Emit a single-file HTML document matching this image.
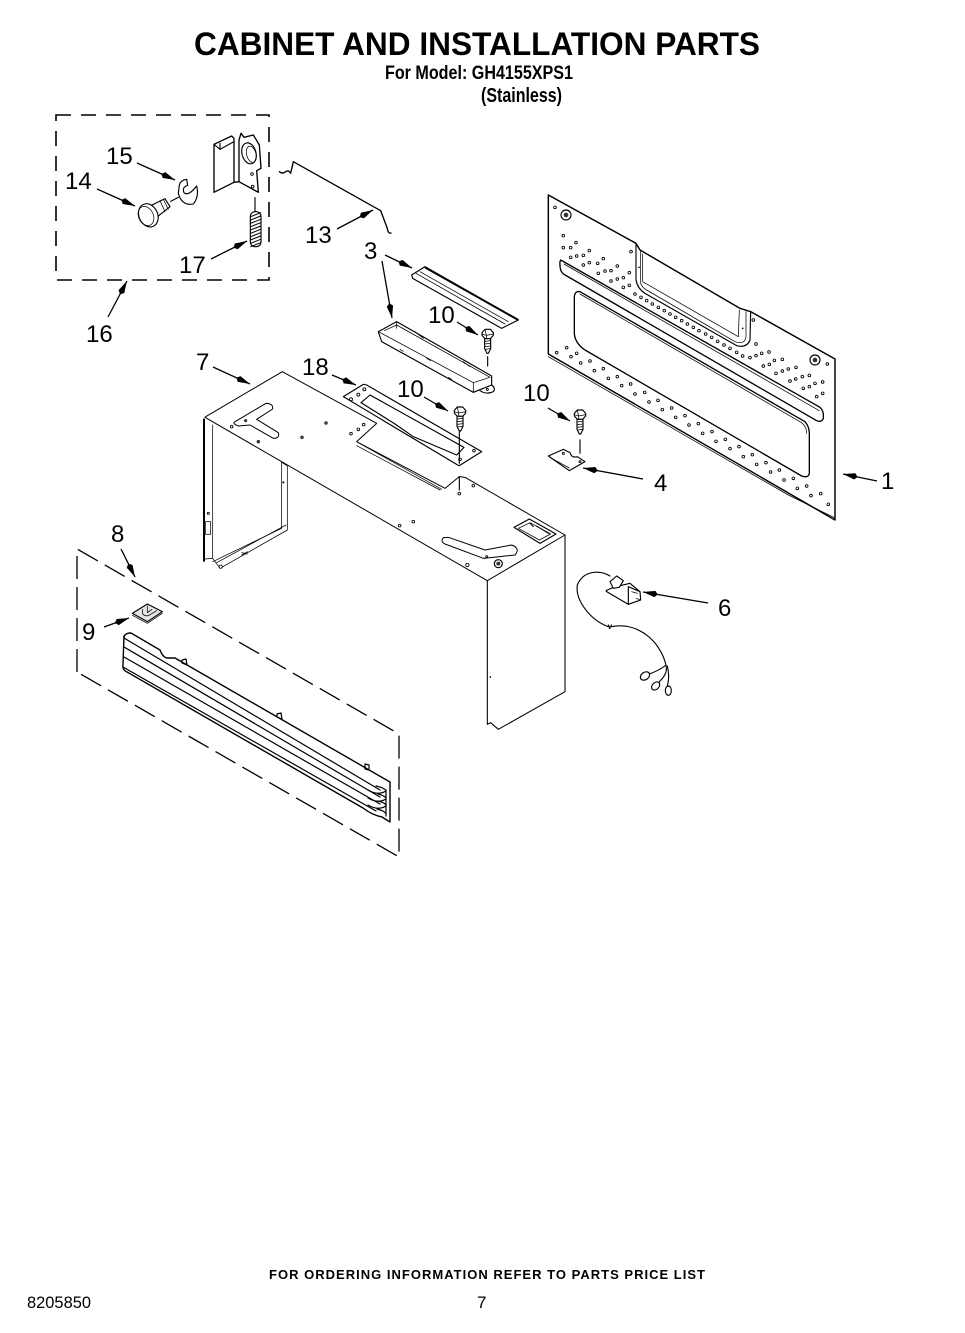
<!DOCTYPE html>
<html><head><meta charset="utf-8"><style>
html,body{margin:0;padding:0;background:#fff}
svg{display:block}
text{font-family:"Liberation Sans",sans-serif;fill:#000}
.n{font-size:24px}
.l{fill:none;stroke:#000;stroke-width:3.4;stroke-linejoin:round;stroke-linecap:round}
.t{fill:none;stroke:#000;stroke-width:2.2;stroke-linejoin:round;stroke-linecap:round}
.h{fill:#fff;stroke:#000;stroke-width:2.6}
.w{fill:#fff;stroke:#000;stroke-width:3.4;stroke-linejoin:round}
.a{stroke:#000;stroke-width:1.3;fill:none;marker-end:url(#ah)}
.g{fill:none;stroke:#000;stroke-width:1.2;stroke-linejoin:round;stroke-linecap:round}
</style></head><body>
<svg width="965" height="1333" viewBox="0 0 965 1333" xmlns="http://www.w3.org/2000/svg">
<defs>
<marker id="ah" markerUnits="userSpaceOnUse" markerWidth="16" markerHeight="8" refX="15" refY="4" orient="auto"><path d="M0,4 L3,.8 L15,4 L3,7.2Z" fill="#000"/></marker>
<g id="screw">
<path class="w" d="M-17,-12 L-8,-22 L8,-22 L17,-12 L17,-4 L8,6 L-8,6 L-17,-4Z"/>
<path class="t" d="M-17,-8 L-4,-4 L17,-8 M-4,-4 L-4,6 M-8,-22 L-4,-4"/>
<path class="w" d="M-9,6 L-9,36 L-2,50 L2,50 L9,36 L9,6Z"/>
<path class="t" d="M-9,14 L9,12 M-9,22 L9,20 M-9,30 L9,28 M-7,38 L7,36"/>
</g>
</defs>
<rect width="965" height="1333" fill="#fff"/>

<!-- headings -->
<text x="194" y="55" font-size="32" font-weight="bold" textLength="566" lengthAdjust="spacingAndGlyphs">CABINET AND INSTALLATION PARTS</text>
<text x="385" y="79" font-size="19" font-weight="bold" textLength="188" lengthAdjust="spacingAndGlyphs">For Model: GH4155XPS1</text>
<text x="481" y="102" font-size="20" font-weight="bold" textLength="81" lengthAdjust="spacingAndGlyphs">(Stainless)</text>
<text x="269" y="1279" font-size="13" font-weight="bold" textLength="436" lengthAdjust="spacing">FOR ORDERING INFORMATION REFER TO PARTS PRICE LIST</text>
<text x="27" y="1308" font-size="17" textLength="64" lengthAdjust="spacingAndGlyphs">8205850</text>
<text x="477" y="1308" font-size="17">7</text>

<!-- dashed boxes -->
<path d="M56,115 H269 V280 H56Z" fill="none" stroke="#000" stroke-width="1.6" stroke-dasharray="15 10"/>
<path d="M77,672 V549 L399,734 V857Z" fill="none" stroke="#000" stroke-width="1.3" stroke-dasharray="23 8"/>

<!-- small parts (zoom 1 coordinates) -->
<g transform="translate(40,100) scale(.33333)">
<path class="l" style="stroke-width:4" d="M522,133 L522,277 L582,247 L582,115 L575,108 L522,133"/>
<path class="l" d="M540,130 L540,148 L582,125 M522,133 L540,148"/>
<path class="l" style="stroke-width:4" d="M582,247 L597,245 L597,120 L603,100 L612,112 L640,105 L658,135 L663,205 L650,212 L655,277 L597,245"/>
<ellipse class="w" cx="627" cy="160" rx="21" ry="32" transform="rotate(-15 627 160)"/>
<ellipse class="t" cx="634" cy="163" rx="14" ry="25" transform="rotate(-15 634 163)"/>
<circle class="h" cx="636" cy="222" r="4"/><circle class="h" cx="638" cy="260" r="4"/>
<path class="l" d="M645,293 V335"/>
<rect class="w" x="631" y="335" width="32" height="105" rx="14"/>
<path class="t" style="stroke-width:3" d="M632,350 L662,338 M632,360 L662,348 M632,370 L662,358 M632,380 L662,368 M632,390 L662,378 M632,400 L662,388 M632,410 L662,398 M632,420 L662,408 M632,430 L662,418 M632,440 L662,428"/>
<!-- pin -->
<path class="l" d="M392,304 L415,292"/>
<path class="w" d="M330,318 L375,296 L390,320 L350,352Z"/>
<path class="t" d="M360,302 L375,335 M370,298 L385,328"/>
<ellipse class="w" cx="325" cy="346" rx="28" ry="36" transform="rotate(-25 325 346)"/>
<ellipse class="t" cx="318" cy="348" rx="22" ry="30" transform="rotate(-25 318 348)"/>
<!-- clip -->
<path class="l" d="M418,255 Q422,240 440,238 L443,256 Q425,262 432,278 Q445,290 470,258 Q478,290 460,312 Q425,318 415,280Z"/>
<!-- rod 13 -->
<path class="l" style="stroke-width:4" d="M718,215 Q728,224 738,214 Q746,210 752,220 L760,185 L1022,332 L1042,385 Q1044,402 1053,399"/>
</g>

<!-- rear panel 1 -->
<g transform="translate(530,180) scale(.33333)">
<path class="l" style="stroke-width:4.4" d="M55,45 L318,190 L330,210 L630,385 L662,395 L915,537 L915,1020 L55,522Z"/>
<path class="t" d="M55,530 L775,945 L915,1014"/>
<path class="l" d="M318,190 L318,300 Q322,325 345,340 L620,497 Q650,505 660,480 L662,395"/>
<path class="t" d="M332,210 L332,310 Q336,322 350,330 L615,485 Q645,495 648,470 L648,395"/>
<path class="t" d="M338,222 L338,305 L625,470 L628,390"/>
<path class="l" style="stroke-width:4" d="M92,240 L870,682 Q882,692 880,715 Q875,728 860,722 L100,282 Q88,272 90,245Z"/>
<path class="t" d="M102,252 L868,692"/>
<path class="l" style="stroke-width:4" d="M150,335 L825,725 Q838,740 838,760 L838,880 Q835,895 815,888 L165,510 Q135,490 133,460 L133,350 Q135,332 150,335Z"/>
<path class="t" d="M150,342 L815,728 Q830,740 830,760"/>
<circle class="w" cx="108" cy="105" r="15"/><circle cx="108" cy="105" r="7" fill="#333"/>
<circle class="w" cx="855" cy="540" r="15"/><circle cx="855" cy="540" r="7" fill="#333"/>
<g class="h" fill="#fff">
<circle cx="80" cy="518" r="4"/><circle cx="110" cy="503" r="4"/><circle cx="123" cy="530" r="4"/><circle cx="140" cy="520" r="4"/><circle cx="152" cy="549" r="4"/><circle cx="180" cy="543" r="4"/><circle cx="193" cy="572" r="4"/><circle cx="220" cy="566" r="4"/><circle cx="235" cy="595" r="4"/><circle cx="262" cy="590" r="4"/><circle cx="275" cy="617" r="4"/><circle cx="302" cy="612" r="4"/><circle cx="315" cy="642" r="4"/><circle cx="344" cy="637" r="4"/><circle cx="357" cy="666" r="4"/><circle cx="384" cy="661" r="4"/><circle cx="397" cy="689" r="4"/><circle cx="425" cy="684" r="4"/><circle cx="437" cy="712" r="4"/><circle cx="465" cy="707" r="4"/><circle cx="477" cy="735" r="4"/><circle cx="505" cy="731" r="4"/><circle cx="518" cy="760" r="4"/><circle cx="546" cy="755" r="4"/><circle cx="558" cy="784" r="4"/><circle cx="586" cy="778" r="4"/><circle cx="600" cy="806" r="4"/><circle cx="627" cy="800" r="4"/><circle cx="640" cy="830" r="4"/><circle cx="667" cy="824" r="4"/><circle cx="680" cy="853" r="4"/><circle cx="708" cy="848" r="4"/><circle cx="722" cy="876" r="4"/><circle cx="748" cy="870" r="4"/><circle cx="762" cy="900" r="4"/><circle cx="790" cy="895" r="4"/><circle cx="802" cy="925" r="4"/><circle cx="830" cy="918" r="4"/><circle cx="843" cy="947" r="4"/><circle cx="872" cy="941" r="4"/><circle cx="895" cy="973" r="4"/>
<circle cx="315" cy="342" r="4"/><circle cx="333" cy="352" r="4"/><circle cx="350" cy="362" r="4"/><circle cx="367" cy="372" r="4"/><circle cx="385" cy="382" r="4"/><circle cx="403" cy="392" r="4"/><circle cx="420" cy="402" r="4"/><circle cx="437" cy="412" r="4"/><circle cx="455" cy="422" r="4"/><circle cx="472" cy="432" r="4"/><circle cx="490" cy="442" r="4"/><circle cx="507" cy="452" r="4"/><circle cx="527" cy="462" r="4"/><circle cx="545" cy="472" r="4"/><circle cx="563" cy="484" r="4"/><circle cx="582" cy="495" r="4"/><circle cx="600" cy="505" r="4"/><circle cx="620" cy="517" r="4"/><circle cx="638" cy="528" r="4"/><circle cx="660" cy="533" r="4"/><circle cx="678" cy="527" r="4"/><circle cx="695" cy="520" r="4"/><circle cx="717" cy="516" r="4"/><circle cx="678" cy="492" r="4"/>
<circle cx="100" cy="167" r="4"/><circle cx="100" cy="203" r="4"/><circle cx="122" cy="203" r="4"/><circle cx="138" cy="188" r="4"/><circle cx="122" cy="232" r="4"/><circle cx="140" cy="228" r="4"/><circle cx="160" cy="226" r="4"/><circle cx="178" cy="212" r="4"/><circle cx="160" cy="255" r="4"/><circle cx="178" cy="248" r="4"/><circle cx="203" cy="250" r="4"/><circle cx="220" cy="236" r="4"/><circle cx="205" cy="280" r="4"/><circle cx="225" cy="273" r="4"/><circle cx="243" cy="272" r="4"/><circle cx="262" cy="258" r="4"/><circle cx="243" cy="303" r="4"/><circle cx="262" cy="297" r="4"/><circle cx="280" cy="293" r="4"/><circle cx="298" cy="278" r="4"/><circle cx="280" cy="322" r="4"/><circle cx="298" cy="316" r="4"/><circle cx="303" cy="215" r="4"/><circle cx="75" cy="82" r="4"/>
<circle cx="700" cy="558" r="4"/><circle cx="718" cy="553" r="4"/><circle cx="733" cy="541" r="4"/><circle cx="757" cy="538" r="4"/><circle cx="738" cy="580" r="4"/><circle cx="757" cy="573" r="4"/><circle cx="775" cy="567" r="4"/><circle cx="798" cy="562" r="4"/><circle cx="780" cy="603" r="4"/><circle cx="797" cy="597" r="4"/><circle cx="817" cy="590" r="4"/><circle cx="838" cy="586" r="4"/><circle cx="820" cy="625" r="4"/><circle cx="838" cy="620" r="4"/><circle cx="855" cy="610" r="4"/><circle cx="878" cy="606" r="4"/><circle cx="860" cy="650" r="4"/><circle cx="878" cy="640" r="4"/><circle cx="670" cy="420" r="4"/><circle cx="892" cy="552" r="4"/>
</g>
<circle cx="327" cy="262" r="2.5"/><circle cx="638" cy="445" r="2.5"/>
<path class="l" d="M150,780 V820"/>
<path class="w" d="M55,828 L100,808 L120,818 Q125,835 142,830 L165,845 L118,872Z"/>
<circle class="h" cx="100" cy="820" r="3"/><circle class="h" cx="150" cy="845" r="3"/>
<path class="t" d="M70,838 L118,864"/>
<use href="#screw" transform="translate(150,712)"/>
</g>

<!-- cabinet, brackets -->
<g transform="translate(190,260) scale(.33333)">
<path class="l" style="stroke-width:3" d="M47,470 L277,335 L560,490 L500,545 L765,685 L808,650 L825,652 L1125,825 L892,962 L45,472"/>
<path class="t" d="M505,548 L755,688 M500,557 L750,690"/>
<path class="l" style="stroke-width:3.2" d="M892,962 L892,1393 L902,1388 L925,1408 L1125,1295 L1125,825"/>
<path d="M42,476 L42,905" stroke="#000" stroke-width="6" fill="none"/>
<path class="t" d="M68,495 L68,895 L45,897 M68,895 L90,925 L292,810 L292,618 L275,607 L275,805 L68,905"/>
<path class="t" d="M80,908 L288,795"/>
<rect x="46" y="785" width="16" height="38" fill="#fff" stroke="#000" stroke-width="2.2"/>
<circle class="h" cx="55" cy="760" r="3"/><circle cx="280" cy="667" r="3"/><circle class="h" cx="92" cy="920" r="5"/><path class="t" d="M155,885 L172,875 M155,878 L172,882"/>
<path class="t" style="stroke-width:3" d="M135,485 L228,430 Q250,430 248,447 L200,478 L265,518 Q270,535 250,535 L180,495 L145,498 Q125,490 135,485Z"/>
<path class="t" style="stroke-width:3" d="M760,833 Q750,845 765,852 L880,895 L975,885 Q992,865 965,855 L885,870 L775,832Z"/>
<g fill="#444" stroke="#000" stroke-width="1.5">
<circle cx="167" cy="482" r="4"/><circle cx="205" cy="545" r="4.5"/><circle cx="336" cy="532" r="4.5"/><circle cx="408" cy="489" r="4.5"/>
</g>
<g class="h">
<circle cx="125" cy="500" r="4"/><circle cx="483" cy="521" r="4"/><circle cx="505" cy="508" r="4"/><circle cx="521" cy="494" r="4"/><circle cx="808" cy="701" r="4"/><circle cx="850" cy="677" r="4"/><circle cx="629" cy="797" r="4"/><circle cx="670" cy="785" r="4"/><circle cx="832" cy="915" r="5"/><circle cx="890" cy="890" r="3"/>
</g>
<circle class="w" cx="925" cy="911" r="12"/><circle cx="925" cy="911" r="6" fill="#333"/>
<path class="l" d="M972,802 L1018,777 L1098,822 L1050,850Z"/>
<path class="t" d="M985,805 L1020,788 L1082,822 L1048,840Z"/>
<path class="t" d="M1020,790 L1030,800 M1040,798 L1075,820" style="stroke-width:3"/>
<circle cx="901" cy="1251" r="2.5"/>
<!-- part 18 -->
<path class="l" d="M460,410 L520,373 L530,375 L875,575 L808,617 L803,615Z"/>
<path class="l" d="M513,428 L540,405 L822,562 L800,585 L670,530 L615,492Z"/>
<g class="h"><circle cx="483" cy="418" r="4.5"/><circle cx="505" cy="404" r="4.5"/><circle cx="523" cy="388" r="4.5"/><circle cx="852" cy="572" r="4"/><circle cx="810" cy="598" r="4"/></g>
<!-- lower bracket 3 -->
<path class="l" d="M870,388 L893,378 L905,375 Q918,385 910,395 Q890,405 870,392"/>
<path class="w" d="M565,215 L620,185 L905,348 L905,375 L850,397 L575,245Z"/>
<path class="t" d="M583,212 L620,195 L900,352 L850,368 L565,215 M850,368 L850,397"/>
<path class="t" d="M620,185 L620,205 M675,215 L700,235 M820,305 L840,320 M710,295 L722,302 M630,268 L640,274 M775,352 L785,358"/>
<circle class="h" cx="892" cy="388" r="3"/>
<!-- upper bracket 3 -->
<path class="l" d="M665,45 L705,20 L985,180 L935,205 L668,55Z"/>
<path d="M705,22 L985,180" stroke="#000" stroke-width="6" fill="none"/>
<path class="t" d="M678,40 L945,192 M690,35 L955,185"/>
<path class="l" d="M893,290 V318 M808,515 V610 M808,650 V690"/>
<use href="#screw" transform="translate(893,230)"/>
<use href="#screw" transform="translate(810,463)"/>
</g>

<!-- grille (page coordinates) -->
<path class="g" style="stroke-width:1.4" d="M124,638 Q124,633 131,633 L160,650 Q163,658 168,658 L175,658 L390,782 L390,822 L382,817"/>
<path class="g" style="stroke-width:1.4" d="M124,636 L123,664 Q122,670 127,672 L363,808 Q372,815 382,817"/>
<path class="g" d="M124,638 L380,790 M124,647 L380,797 M124,657 L380,804 M123,667 L376,811"/>
<path class="g" d="M376,786 Q385,788 386,791 Q378,796 368,790 M378,794 Q386,796 386,799 Q378,804 368,798 M378,801 Q386,803 386,806 Q378,811 368,805 M377,809 Q385,811 386,814 M386,790 V816"/>
<path class="g" d="M182,660 L186,659 L187,665 L182,663Z M277,714 L281,713 L282,719 L277,717Z M365,764 L369,765 L369,770 L365,769Z"/>
<!-- part 9 -->
<g transform="translate(60,540) scale(.33333)">
<path class="w" fill="#ddd" style="fill:#e4e4e4" d="M217,220 L262,192 L307,215 L262,245Z"/>
<path class="t" d="M217,226 L262,250 L307,220 M248,208 L248,222 Q258,232 270,224 L290,212 M262,198 L262,218 L276,208"/>
</g>

<!-- switch & wires -->
<g transform="translate(560,550) scale(.33333)">
<path class="l" d="M150,78 C120,60 70,60 52,105 C45,150 90,210 145,230 M145,225 L150,235 M155,225 L148,235 M155,230 C230,215 300,270 318,345 M318,345 Q300,360 268,372 M318,348 Q325,370 295,398 M322,348 Q330,380 322,408"/>
<path class="w" d="M138,122 L160,112 L210,100 L240,125 L242,150 L205,163 L140,125Z"/>
<path class="l" d="M205,163 L205,110 L240,125"/>
<path class="w" d="M150,95 L170,78 L190,92 L178,112 L160,115Z"/>
<path class="t" d="M215,125 L232,130 M228,145 L242,150"/>
<ellipse class="w" cx="255" cy="378" rx="15" ry="11" transform="rotate(-35 255 378)"/>
<ellipse class="w" cx="287" cy="408" rx="14" ry="10" transform="rotate(-45 287 408)"/>
<ellipse class="w" cx="325" cy="422" rx="9" ry="14"/>
</g>

<!-- arrows -->
<g>
<path class="a" d="M137,163 L175,180"/><path class="a" d="M97,189 L135,206"/><path class="a" d="M211,259 L247,241"/><path class="a" d="M337,229 L373,210"/><path class="a" d="M108,317 L127,281"/><path class="a" d="M385,255 L412,268"/><path class="a" d="M382,261 L392,318"/><path class="a" d="M457,322 L478,335"/><path class="a" d="M213,367 L250,384"/><path class="a" d="M332,375 L356,385"/><path class="a" d="M424,397 L448,411"/><path class="a" d="M548,408 L570,421"/><path class="a" d="M643,479 L583,468"/><path class="a" d="M877,481 L843,474"/><path class="a" d="M708,603 L643,592"/><path class="a" d="M121,549 L135,577"/><path class="a" d="M104,627 L129,618"/>
</g>

<!-- labels -->
<g class="n">
<text x="106" y="164">15</text><text x="65" y="189">14</text><text x="179" y="273">17</text><text x="305" y="243">13</text><text x="86" y="342">16</text><text x="364" y="259">3</text><text x="428" y="323">10</text><text x="196" y="370">7</text><text x="302" y="375">18</text><text x="397" y="397">10</text><text x="523" y="401">10</text><text x="654" y="491">4</text><text x="881" y="489">1</text><text x="718" y="616">6</text><text x="111" y="542">8</text><text x="82" y="640">9</text>
</g>
</svg>
</body></html>
